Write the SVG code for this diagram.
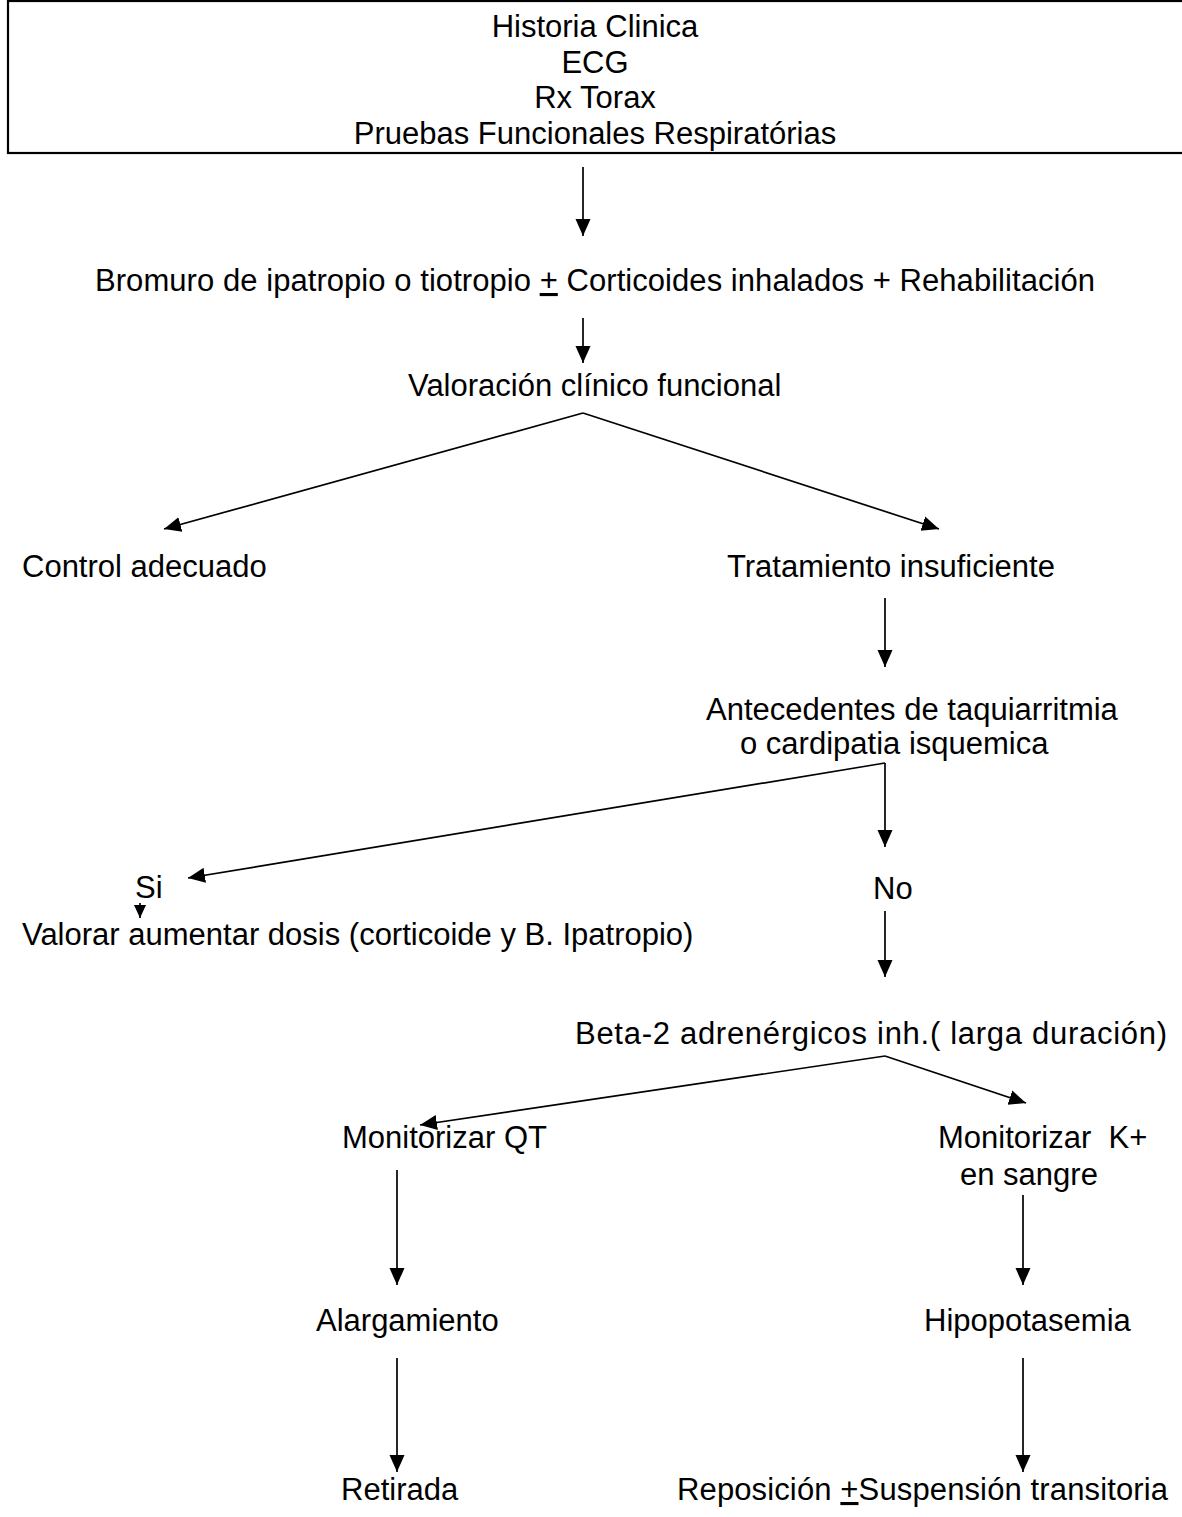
<svg xmlns="http://www.w3.org/2000/svg" width="1182" height="1517" viewBox="0 0 1182 1517">
<style>
text{font-family:"Liberation Sans",Arial,sans-serif;font-size:31px;fill:#000}
.c{text-anchor:middle}
.u{text-decoration:underline}
line{stroke:#000;stroke-width:1.7}
</style>
<defs>
<marker id="ah" markerUnits="userSpaceOnUse" markerWidth="18" markerHeight="18" viewBox="0 0 18 18" refX="17" refY="9" orient="auto">
<path d="M0,1.5 L17,9 L0,16.5 Z" fill="#000"/>
</marker>
<marker id="ahs" markerUnits="userSpaceOnUse" markerWidth="14" markerHeight="14" viewBox="0 0 14 14" refX="13" refY="7" orient="auto">
<path d="M0,1 L13,7 L0,13 Z" fill="#000"/>
</marker>
</defs>
<rect width="1182" height="1517" fill="#fff"/>
<g id="n-inicio">
<rect x="8" y="1" width="1180" height="152" fill="none" stroke="#000" stroke-width="2.2"/>
<text class="c" x="595" y="37">Historia Clinica</text>
<text class="c" x="595" y="72.5">ECG</text>
<text class="c" x="595" y="108">Rx Torax</text>
<text class="c" x="595" y="143.5">Pruebas Funcionales Respiratórias</text>
</g>
<g id="n-bromuro"><text x="95" y="291" textLength="1000">Bromuro de ipatropio o tiotropio <tspan class="u">+</tspan> Corticoides inhalados + Rehabilitación</text></g>
<g id="n-valoracion"><text x="408" y="396">Valoración clínico funcional</text></g>
<g id="n-control"><text x="22" y="577">Control adecuado</text></g>
<g id="n-tratamiento"><text x="727" y="577">Tratamiento insuficiente</text></g>
<g id="n-antecedentes"><text x="706" y="720">Antecedentes de taquiarritmia</text><text x="740" y="754">o cardipatia isquemica</text></g>
<g id="n-si"><text x="135" y="898">Si</text></g>
<g id="n-no"><text x="873" y="899">No</text></g>
<g id="n-valorar"><text x="22" y="945">Valorar aumentar dosis (corticoide y B. Ipatropio)</text></g>
<g id="n-beta"><text x="575" y="1044" textLength="592">Beta-2 adrenérgicos inh.( larga duración)</text></g>
<g id="n-qt"><text x="342" y="1148">Monitorizar QT</text></g>
<g id="n-k"><text x="938" y="1148" xml:space="preserve">Monitorizar  K+</text><text x="960" y="1185">en sangre</text></g>
<g id="n-alargamiento"><text x="316" y="1331">Alargamiento</text></g>
<g id="n-hipo"><text x="924" y="1331">Hipopotasemia</text></g>
<g id="n-retirada"><text x="341" y="1500">Retirada</text></g>
<g id="n-reposicion"><text x="677" y="1500" textLength="491">Reposición <tspan class="u">+</tspan>Suspensión transitoria</text></g>
<g id="connectors">
<line x1="583" y1="167" x2="583" y2="236" marker-end="url(#ah)"/>
<line x1="583" y1="318" x2="583" y2="363" marker-end="url(#ah)"/>
<line x1="583" y1="413" x2="164" y2="529" marker-end="url(#ah)"/>
<line x1="583" y1="413" x2="939" y2="529" marker-end="url(#ah)"/>
<line x1="885" y1="598" x2="885" y2="667" marker-end="url(#ah)"/>
<line x1="885" y1="763" x2="188" y2="878" marker-end="url(#ah)"/>
<line x1="885" y1="763" x2="885" y2="847" marker-end="url(#ah)"/>
<line x1="140" y1="903" x2="140" y2="918" marker-end="url(#ahs)"/>
<line x1="885" y1="911" x2="885" y2="977" marker-end="url(#ah)"/>
<line x1="885" y1="1056" x2="420" y2="1125" marker-end="url(#ah)"/>
<line x1="885" y1="1056" x2="1026" y2="1103" marker-end="url(#ah)"/>
<line x1="397" y1="1170" x2="397" y2="1285" marker-end="url(#ah)"/>
<line x1="1023" y1="1195" x2="1023" y2="1285" marker-end="url(#ah)"/>
<line x1="397" y1="1358" x2="397" y2="1472" marker-end="url(#ah)"/>
<line x1="1023" y1="1358" x2="1023" y2="1472" marker-end="url(#ah)"/>
</g>
</svg>
